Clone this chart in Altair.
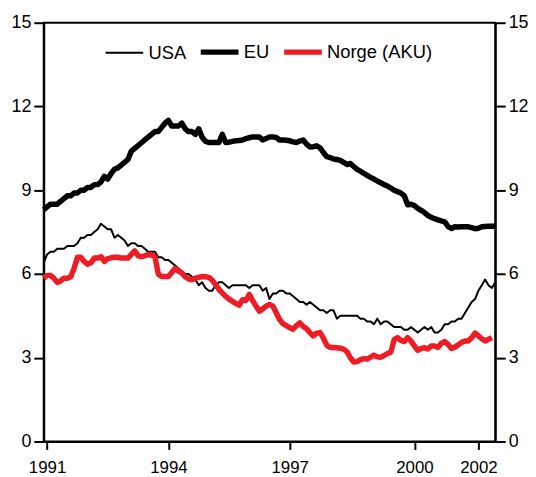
import altair as alt
import pandas as pd

series_names = ["USA", "EU", "Norge (AKU)"]
series_colors = ["#000000", "#000000", "#ee1c25"]

# x tick positions (month index from Jan 1991) and their labels
tick_months = [1, 37, 73, 110, 129]
tick_labels = ["1991", "1994", "1997", "2000", "2002"]
y_ticks = [0, 3, 6, 9, 12, 15]

# Monthly values, Jan 1991 onwards (per cent)
usa = [
    6.4, 6.7, 6.8, 6.8, 6.9, 6.9, 6.9, 7.0, 7.0, 7.0, 7.1, 7.3,
    7.3, 7.4, 7.4, 7.5, 7.6, 7.8, 7.7, 7.6, 7.6, 7.3, 7.4, 7.3,
    7.2, 7.0, 7.1, 7.1, 7.0, 7.0, 6.9, 6.8, 6.8, 6.8, 6.6, 6.6,
    6.5, 6.5, 6.4, 6.3, 6.2, 6.1, 6.0, 6.0, 5.9, 5.8, 5.6, 5.7,
    5.5, 5.4, 5.4, 5.6, 5.7, 5.7, 5.6, 5.5, 5.6, 5.6, 5.6, 5.6,
    5.6, 5.5, 5.6, 5.6, 5.6, 5.4, 5.5, 5.1, 5.3, 5.3, 5.4, 5.4,
    5.3, 5.3, 5.2, 5.1, 5.0, 5.0, 4.9, 5.0, 4.9, 4.8, 4.7, 4.7,
    4.6, 4.7, 4.7, 4.4, 4.5, 4.5, 4.5, 4.5, 4.5, 4.5, 4.4, 4.4,
    4.3, 4.3, 4.2, 4.4, 4.2, 4.3, 4.3, 4.2, 4.1, 4.1, 4.1, 4.0,
    4.0, 4.1, 4.0, 3.9, 4.0, 4.1, 4.0, 4.1, 3.9, 3.9, 4.0, 4.2,
    4.2, 4.3, 4.3, 4.4, 4.4, 4.6, 4.8, 5.0, 5.1, 5.4, 5.6, 5.8,
    5.6, 5.5, 5.7,
]

eu = [
    8.3, 8.4, 8.5, 8.5, 8.5, 8.6, 8.7, 8.8, 8.8, 8.9, 8.9, 9.0,
    9.0, 9.1, 9.1, 9.2, 9.2, 9.3, 9.5, 9.4, 9.6, 9.75, 9.8, 9.9,
    10.0, 10.1, 10.4, 10.5, 10.6, 10.7, 10.8, 10.9, 11.0, 11.1, 11.1, 11.25,
    11.4, 11.5, 11.3, 11.3, 11.3, 11.4, 11.2, 11.1, 11.1, 11.0, 11.2, 10.9,
    10.75, 10.71, 10.71, 10.71, 10.71, 11.0, 10.71, 10.72, 10.75, 10.77, 10.78, 10.8,
    10.85, 10.88, 10.91, 10.91, 10.91, 10.8, 10.85, 10.91, 10.91, 10.89, 10.8, 10.8,
    10.79, 10.77, 10.73, 10.71, 10.76, 10.8, 10.65, 10.55, 10.56, 10.59, 10.52, 10.35,
    10.2, 10.17, 10.12, 10.1, 10.07, 10.0, 9.92, 9.96, 9.85, 9.75, 9.68, 9.6,
    9.53, 9.46, 9.4, 9.33, 9.27, 9.2, 9.15, 9.08, 9.0, 8.95, 8.9, 8.8,
    8.48, 8.5, 8.45, 8.35, 8.28, 8.2, 8.1, 8.03, 7.98, 7.94, 7.9, 7.87,
    7.7, 7.63, 7.69, 7.68, 7.69, 7.69, 7.69, 7.66, 7.62, 7.64, 7.69, 7.7,
    7.71, 7.71, 7.71,
]

norge = [
    5.85, 5.95, 5.95, 5.85, 5.7, 5.75, 5.85, 5.85, 5.9, 6.2, 6.6, 6.6,
    6.45, 6.35, 6.4, 6.57, 6.57, 6.62, 6.45, 6.55, 6.58, 6.6, 6.6, 6.57,
    6.57, 6.57, 6.7, 6.83, 6.65, 6.62, 6.65, 6.7, 6.68, 6.62, 6.0, 5.91,
    5.91, 5.91, 6.05, 6.2, 6.1, 6.03, 5.9, 5.82, 5.79, 5.85, 5.88, 5.91,
    5.9, 5.88, 5.78, 5.62, 5.45, 5.32, 5.2, 5.1, 5.02, 4.95, 4.88, 5.08,
    5.05, 5.27, 5.05, 4.85, 4.67, 4.75, 4.85, 4.91, 4.85, 4.61, 4.37, 4.22,
    4.15, 4.08, 4.02, 4.15, 4.25, 4.12, 4.04, 3.9, 3.78, 3.88, 3.9, 3.7,
    3.45, 3.37, 3.37, 3.36, 3.34, 3.31, 3.22, 3.0, 2.85, 2.86, 2.93, 2.97,
    2.95, 3.02, 3.09, 3.03, 3.02, 3.08, 3.15, 3.2, 3.65, 3.72, 3.62, 3.58,
    3.72, 3.6, 3.42, 3.27, 3.33, 3.36, 3.31, 3.42, 3.42, 3.37, 3.52, 3.58,
    3.48, 3.33, 3.38, 3.46, 3.55, 3.6, 3.6, 3.72, 3.88, 3.78, 3.68, 3.6,
    3.66, 3.72,
]

rows = []
for name, vals in zip(series_names, [usa, eu, norge]):
    for i, v in enumerate(vals):
        rows.append({"t": i, "value": v, "series": name})
df = pd.DataFrame(rows)

label_expr = "".join(
    f"datum.value == {m} ? '{lab}' : " for m, lab in zip(tick_months, tick_labels)
) + "''"

FONT = "Liberation Sans"

x_enc = alt.X(
    "t:Q",
    scale=alt.Scale(domain=[0, 134], nice=False, zero=False),
    axis=alt.Axis(values=tick_months, labelExpr=label_expr, title=None, grid=False,
                  tickSize=8, labelPadding=10, labelFontSize=17,
                  labelFlush=False, labelOverlap=False),
)

lines = alt.Chart(df).mark_line(strokeJoin="round", strokeCap="butt").encode(
    x=x_enc,
    y=alt.Y("value:Q", scale=alt.Scale(domain=[0, 15], nice=False, zero=True),
            axis=alt.Axis(values=y_ticks, title=None, grid=False, orient="left",
                          tickSize=10, labelPadding=3)),
    color=alt.Color(
        "series:N",
        sort=series_names,
        scale=alt.Scale(domain=series_names, range=series_colors),
        legend=alt.Legend(
            orient="none", legendX=72, legendY=20, direction="horizontal",
            title=None, labelFontSize=18.5, labelFont=FONT, labelColor="black",
            symbolType="stroke", symbolSize=1444, labelOffset=15, columnPadding=3,
            padding=0,
            symbolStrokeWidth=alt.ExprRef("datum.value === 'USA' ? 2 : 5.5"),
        ),
    ),
    strokeWidth=alt.condition(alt.datum.series == "USA", alt.value(2), alt.value(5.5)),
)

right_axis = alt.Chart(df).transform_filter(alt.datum.series == "USA").mark_line(
    strokeOpacity=0
).encode(
    x=x_enc,
    y=alt.Y("value:Q", scale=alt.Scale(domain=[0, 15], nice=False, zero=True),
            axis=alt.Axis(values=y_ticks, title=None, grid=False, orient="right",
                          tickSize=10, labelPadding=3)),
)

chart = alt.layer(lines, right_axis).resolve_axis(y="independent").properties(
    width=455, height=422,
    autosize=alt.AutoSizeParams(type="none"),
    padding={"left": 36, "top": 13, "right": 33, "bottom": 40},
).configure_view(
    stroke="black", strokeWidth=2
).configure_axis(
    labelFont=FONT, labelFontSize=18, labelColor="black",
    domainColor="black", domainWidth=2, tickColor="black", tickWidth=2,
)

chart.save("out.html", embed_options={"renderer": "svg", "actions": False})
